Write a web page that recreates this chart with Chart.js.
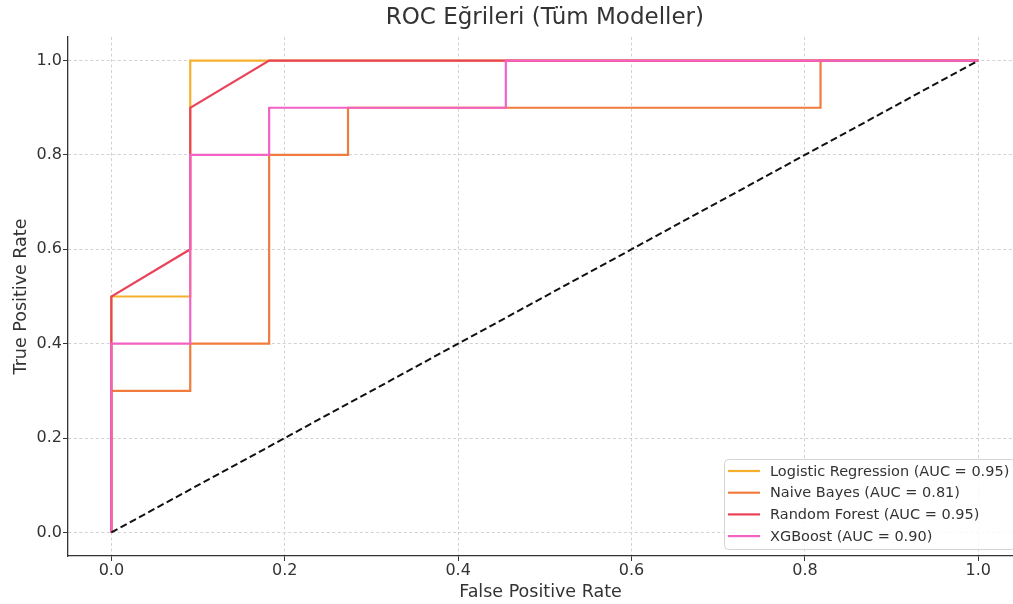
<!DOCTYPE html>
<html>
<head>
<meta charset="utf-8">
<script src="https://cdn.jsdelivr.net/npm/chart.js@4"></script>
<style>
  html, body { margin: 0; padding: 0; background: #fff; overflow: hidden; }
  #wrap { width: 1013px; height: 604px; position: relative; }
</style>
</head>
<body>
<div id="wrap"><canvas id="c" width="1013" height="604"></canvas></div>
<script>
// ---- data ----
const chartTitle = "ROC Eğrileri (Tüm Modeller)";
const xTitle = "False Positive Rate";
const yTitle = "True Positive Rate";
const tickValues = [0.0, 0.2, 0.4, 0.6, 0.8, 1.0];

const seriesNames = [
  "Logistic Regression (AUC = 0.95)",
  "Naive Bayes (AUC = 0.81)",
  "Random Forest (AUC = 0.95)",
  "XGBoost (AUC = 0.90)"
];
const seriesColors = ["#f6b02c", "#ef7c3d", "#e9435a", "#f262c4"];

const lrFpr = [0, 0, 0.091, 0.091, 1];
const lrTpr = [0, 0.5, 0.5, 1.0, 1.0];

const nbFpr = [0, 0, 0.091, 0.091, 0.182, 0.182, 0.273, 0.273, 0.818, 0.818, 1];
const nbTpr = [0, 0.3, 0.3, 0.4, 0.4, 0.8, 0.8, 0.9, 0.9, 1.0, 1.0];

const rfFpr = [0, 0, 0.091, 0.091, 0.182, 1];
const rfTpr = [0, 0.5, 0.6, 0.9, 1.0, 1.0];

const xgbFpr = [0, 0, 0.091, 0.091, 0.182, 0.182, 0.455, 0.455, 1];
const xgbTpr = [0, 0.4, 0.4, 0.8, 0.8, 0.9, 0.9, 1.0, 1.0];

const diagFpr = [0, 1];
const diagTpr = [0, 1];

// ---- build ----
const toPts = (xs, ys) => xs.map((x, i) => ({ x: x, y: ys[i] }));
const curves = [[lrFpr, lrTpr], [nbFpr, nbTpr], [rfFpr, rfTpr], [xgbFpr, xgbTpr]];

const curveSets = curves.map((c, i) => ({
  label: seriesNames[i],
  data: toPts(c[0], c[1]),
  showLine: true,
  borderColor: seriesColors[i],
  backgroundColor: seriesColors[i],
  borderWidth: 2.2,
  pointRadius: 0,
  fill: false,
  tension: 0
}));
const diagSet = {
  label: "diagonal",
  data: toPts(diagFpr, diagTpr),
  showLine: true,
  borderColor: "#111111",
  borderWidth: 2,
  borderDash: [7, 3.5],
  pointRadius: 0,
  fill: false
};
// Chart.js draws the first dataset top-most: put the diagonal first,
// then the curves in reverse so XGBoost sits above Random Forest, etc.
const datasets = [diagSet].concat(curveSets.slice().reverse());

const textColor = "#333333";
const fontFamily = "'DejaVu Sans', sans-serif";

const decorPlugin = {
  id: "decor",
  afterDatasetsDraw(chart) {
    const ctx = chart.ctx;
    const xs = chart.scales.x;
    const cx = (xs.getPixelForValue(-0.05) + xs.getPixelForValue(1.05)) / 2;
    ctx.save();
    ctx.fillStyle = textColor;
    ctx.font = "23px " + fontFamily;
    ctx.textAlign = "center";
    ctx.textBaseline = "middle";
    ctx.fillText(chartTitle, cx, 18);

    // legend box (lower right inside plot)
    const bx = 724, by = 459, bw = 291, bh = 90;
    ctx.beginPath();
    ctx.roundRect(bx + 0.5, by + 0.5, bw, bh, 4);
    ctx.fillStyle = "rgba(255,255,255,0.85)";
    ctx.fill();
    ctx.strokeStyle = "#d4d4d4";
    ctx.lineWidth = 1;
    ctx.stroke();

    ctx.font = "14.5px " + fontFamily;
    ctx.textAlign = "left";
    ctx.textBaseline = "middle";
    const rowH = 21.7;
    for (let i = 0; i < seriesNames.length; i++) {
      const ry = 471 + i * rowH;
      ctx.beginPath();
      ctx.moveTo(728, ry);
      ctx.lineTo(760, ry);
      ctx.strokeStyle = seriesColors[i];
      ctx.lineWidth = 2.2;
      ctx.stroke();
      ctx.fillStyle = textColor;
      ctx.fillText(seriesNames[i], 770, ry + 1);
    }
    ctx.restore();
  }
};

const fixedTicks = (scale) => {
  scale.ticks = tickValues.map(v => ({ value: v }));
};

const gridOpts = {
  color: "#d2d2d2",
  tickColor: "#333333",
  tickLength: 5,
  tickBorderDash: [],
  lineWidth: 1
};
const borderOpts = { display: true, color: "#333333", width: 1.3, dash: [3, 2.5] };

new Chart(document.getElementById("c"), {
  type: "scatter",
  data: { datasets: datasets },
  options: {
    responsive: false,
    animation: false,
    layout: { padding: { top: 37, right: 0, left: 0, bottom: 0 } },
    plugins: {
      legend: { display: false },
      title: { display: false },
      tooltip: { enabled: false }
    },
    scales: {
      x: {
        type: "linear",
        min: -0.05,
        max: 1.04,
        afterBuildTicks: fixedTicks,
        afterFit: (s) => { s.height = 48; },
        border: borderOpts,
        grid: gridOpts,
        ticks: {
          color: textColor,
          font: { family: fontFamily, size: 16 },
          padding: 0,
          maxRotation: 0,
          callback: (v) => Number(v).toFixed(1)
        },
        title: {
          display: true,
          text: xTitle,
          color: textColor,
          font: { family: fontFamily, size: 17.5 },
          padding: { top: 2, bottom: 1 }
        }
      },
      y: {
        type: "linear",
        min: -0.05,
        max: 1.05,
        afterBuildTicks: fixedTicks,
        afterFit: (s) => { s.width = 68; },
        border: borderOpts,
        grid: gridOpts,
        ticks: {
          color: textColor,
          font: { family: fontFamily, size: 16 },
          padding: 1,
          callback: (v) => Number(v).toFixed(1)
        },
        title: {
          display: true,
          text: yTitle,
          color: textColor,
          font: { family: fontFamily, size: 17.5 },
          padding: { top: 11, bottom: 2 }
        }
      }
    }
  },
  plugins: [decorPlugin]
});
</script>
</body>
</html>
